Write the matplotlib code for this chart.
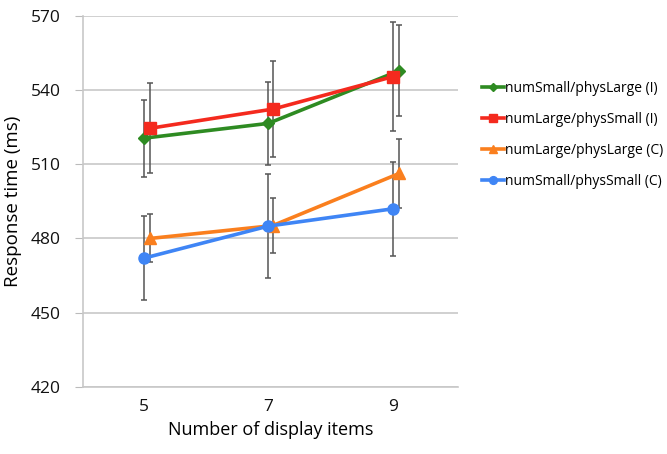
import matplotlib
matplotlib.use("Agg")
import matplotlib.pyplot as plt

plt.rcParams['font.family'] = ['Open Sans', 'DejaVu Sans']

# data
display_items = [5, 7, 9]
series_names = ['numSmall/physLarge (I)', 'numLarge/physSmall (I)',
                'numLarge/physLarge (C)', 'numSmall/physSmall (C)']
small_large_i = [520.5, 526.5, 547.8]
small_large_i_err = [15.5, 16.8, 18.5]
large_small_i = [524.5, 532.3, 545.4]
large_small_i_err = [18.2, 19.3, 22.0]
large_large_c = [480.0, 485.2, 506.3]
large_large_c_err = [9.7, 11.0, 14.0]
small_small_c = [472.0, 485.0, 492.0]
small_small_c_err = [17.0, 21.0, 19.0]
y_ticks = [420, 450, 480, 510, 540, 570]

# small horizontal shifts of the points in the original chart
shifts = [[0, 0, 0.1], [0.1, 0.08, 0], [0.1, 0.07, 0.1], [0, 0, 0]]
colors = ['#2E8B22', '#F42A1E', '#FA7F1E', '#3F85F5']
markers = ['D', 's', '^', 'o']
msizes = [6, 8, 8, 8]

values = [small_large_i, large_small_i, large_large_c, small_small_c]
errors = [small_large_i_err, large_small_i_err, large_large_c_err, small_small_c_err]

fig = plt.figure(figsize=(6.67, 4.54), dpi=100)
ax = fig.add_axes([0.1244, 0.1476, 0.5623, 0.8178])

for name, vals, errs, sh, c, m, ms in zip(series_names, values, errors, shifts,
                                          colors, markers, msizes):
    xs = [x + s for x, s in zip(display_items, sh)]
    ax.errorbar(xs, vals, yerr=errs, fmt='none', ecolor='#555555',
                elinewidth=1.1, capsize=2.5, capthick=1.1, zorder=2)
    ax.plot(xs, vals, color=c, lw=2.6, marker=m, markersize=ms,
            markeredgecolor=c, label=name, zorder=3)

ax.set_xlim(4.03, 10.04)
ax.set_ylim(420, 570)
ax.set_xticks(display_items)
ax.set_yticks(y_ticks)
ax.tick_params(axis='x', length=0, pad=9, labelsize=12.5, labelcolor='#111111')
ax.tick_params(axis='y', length=6, color='#bbbbbb', pad=10, labelsize=12.5,
               labelcolor='#111111')
ax.grid(axis='y', color='#c8c8c8', lw=1.2)
ax.set_axisbelow(True)
for side in ['top', 'right']:
    ax.spines[side].set_visible(False)
ax.spines['left'].set_color('#c8c8c8')
ax.spines['bottom'].set_color('#c8c8c8')
ax.spines['left'].set_linewidth(1.2)
ax.spines['bottom'].set_linewidth(1.2)

ax.set_xlabel('Number of display items', fontsize=13, labelpad=4)
ax.set_ylabel('Response time (ms)', fontsize=13.5, labelpad=6)

fig.legend(loc='upper left', bbox_to_anchor=(0.722, 0.822), frameon=False,
           fontsize=10, handlelength=1.6, handletextpad=0.1, labelspacing=1.15,
           borderpad=0, borderaxespad=0, markerscale=0.7)

fig.savefig('out.png', dpi=100)
